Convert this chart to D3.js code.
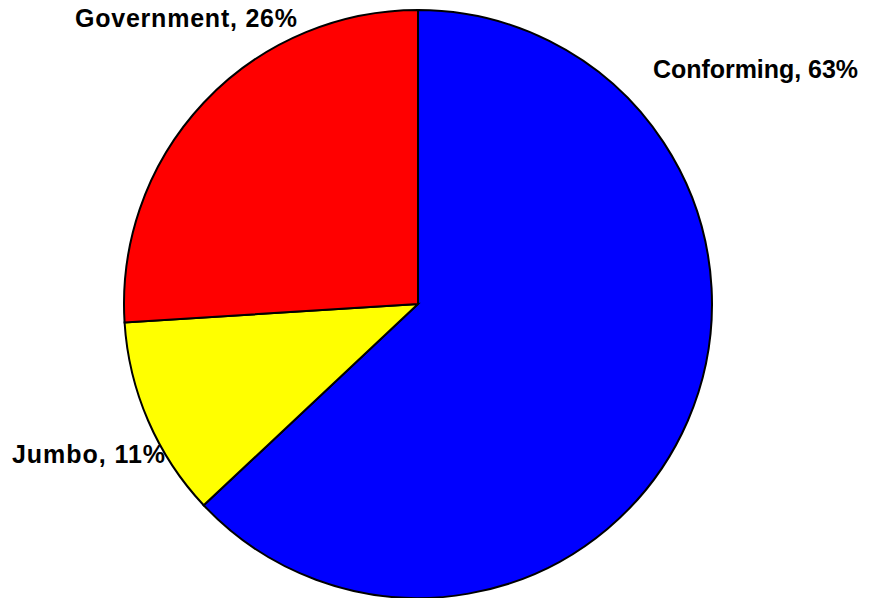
<!DOCTYPE html>
<html>
<head>
<meta charset="utf-8">
<script src="https://cdn.jsdelivr.net/npm/d3@7"></script>
<style>
  html, body { margin: 0; padding: 0; background: #fff; }
  svg { display: block; }
</style>
</head>
<body>
<svg id="chart" width="873" height="598"></svg>
<script>
// Loan mix by category (percent share)
const categories = ["Conforming", "Jumbo", "Government"];
const shares = [63, 11, 26];
const colors = ["#0000ff", "#ffff00", "#ff0000"];

// Label placement: text start x, baseline y, rendered width
const labelX = [653, 12, 75];
const labelY = [78, 463, 27];
const labelW = [205, 153, 222];

const width = 873, height = 598;
const cx = 418, cy = 304, radius = 294;

const svg = d3.select("#chart");

const data = categories.map((c, i) => ({ name: c, value: shares[i], color: colors[i] }));

const pie = d3.pie()
  .value(d => d.value)
  .sort(null)
  .startAngle(0)
  .endAngle(2 * Math.PI);

const arc = d3.arc().innerRadius(0).outerRadius(radius);

const g = svg.append("g").attr("transform", `translate(${cx},${cy})`);

g.selectAll("path")
  .data(pie(data))
  .join("path")
  .attr("d", arc)
  .attr("fill", d => d.data.color)
  .attr("stroke", "#000")
  .attr("stroke-width", 2)
  .attr("stroke-linejoin", "miter");

svg.selectAll("text.lbl")
  .data(data)
  .join("text")
  .attr("class", "lbl")
  .attr("x", (d, i) => labelX[i])
  .attr("y", (d, i) => labelY[i])
  .attr("textLength", (d, i) => labelW[i])
  .attr("lengthAdjust", "spacing")
  .attr("font-family", "Liberation Sans, Arial, sans-serif")
  .attr("font-weight", "bold")
  .attr("font-size", 25)
  .attr("fill", "#000")
  .text(d => `${d.name}, ${d.value}%`);
</script>
</body>
</html>
